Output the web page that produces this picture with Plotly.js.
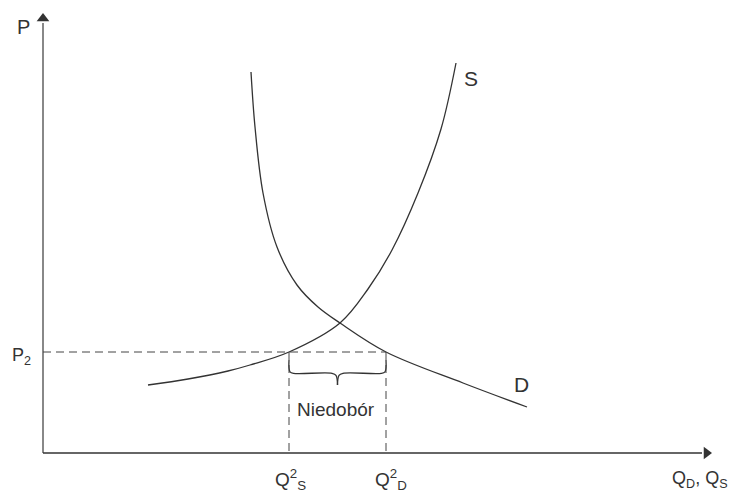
<!DOCTYPE html>
<html>
<head>
<meta charset="utf-8">
<script src="https://cdn.plot.ly/plotly-3.0.1.min.js"></script>
<style>html,body{margin:0;padding:0;background:#fff;}#chart{width:729px;height:493px;}</style>
</head>
<body>
<div id="chart"></div>
<script>
// ---- data ----
const supplyQ = [10.5, 14.5, 18.5, 20.7, 24.6, 29.7, 32.5, 34.9, 37.5, 39.8, 41.3];
const supplyP = [6.8, 7.4, 8.2, 8.8, 10.1, 13.0, 16.4, 20.3, 26.0, 32.4, 39.0];
const demandQ = [20.8, 21.2, 22.0, 23.4, 25.4, 27.5, 29.7, 34.3, 42.0, 48.4];
const demandP = [38.1, 32.6, 26.0, 20.6, 16.8, 14.6, 13.0, 10.1, 7.0, 4.6];
const P2 = 10.1;
const Q2S = 24.6;
const Q2D = 34.3;
const labelP = "P";
const labelP2 = "P<sub>2</sub>";
const labelQ2S = "Q<sup>2</sup><sub>S</sub>";
const labelQ2D = "Q<sup>2</sup><sub>D</sub>";
const labelQ = "Q<sub>D</sub>, Q<sub>S</sub>";
const labelS = "S";
const labelD = "D";
const labelGap = "Niedobór";

// ---- drawing ----
const FONT = '"Liberation Sans", Arial, sans-serif';
const ink = '#333333';
const xMax = 65.9, yMax = 43.0;

const mid = (Q2S + Q2D) / 2;
const bTop = P2 - 0.8, bFlat = P2 - 2.13, bTip = P2 - 3.3;
const braceLX = [Q2S, Q2S, Q2S + 0.1, Q2S + 0.45, mid - 0.55, mid - 0.15, mid];
const braceLY = [bTop, bFlat + 0.55, bFlat + 0.15, bFlat, bFlat, bFlat - 0.2, bTip];
const braceRX = braceLX.map(v => Q2S + Q2D - v);

const curve = {mode: 'lines', line: {color: ink, width: 1.3, shape: 'spline', smoothing: 1}, hoverinfo: 'skip', showlegend: false};
const traces = [
  Object.assign({x: supplyQ, y: supplyP}, curve),
  Object.assign({x: demandQ, y: demandP}, curve),
  Object.assign({x: braceLX, y: braceLY}, curve),
  Object.assign({x: braceRX, y: braceLY}, curve),
  {x: [0], y: [yMax + 0.45], mode: 'markers', marker: {symbol: 'triangle-up', size: 11, color: ink}, hoverinfo: 'skip', showlegend: false},
  {x: [xMax + 0.45], y: [0], mode: 'markers', marker: {symbol: 'triangle-right', size: 11, color: ink}, hoverinfo: 'skip', showlegend: false}
];

const dash = {color: '#444', width: 1, dash: '8px,5px'};
const shapes = [
  {type: 'line', xref: 'x', yref: 'y', x0: 0, y0: 0, x1: 0, y1: yMax, line: {color: '#888', width: 2}},
  {type: 'line', xref: 'x', yref: 'y', x0: 0, y0: 0, x1: xMax, y1: 0, line: {color: ink, width: 1.5}},
  {type: 'line', xref: 'x', yref: 'y', x0: 0, y0: P2, x1: Q2D, y1: P2, line: dash},
  {type: 'line', xref: 'x', yref: 'y', x0: Q2S, y0: P2, x1: Q2S, y1: 0, line: dash},
  {type: 'line', xref: 'x', yref: 'y', x0: Q2D, y0: P2, x1: Q2D, y1: 0, line: dash}
];

function ann(text, x, y, size, xa, ya) {
  return {text: text, x: x, y: y, xref: 'x', yref: 'y', showarrow: false,
    xanchor: xa || 'center', yanchor: ya || 'middle',
    font: {family: FONT, size: size, color: ink}};
}
const annotations = [
  ann(labelP, -2.0, 42.6, 20),
  ann(labelP2, -1.0, P2 - 0.45, 18, 'right'),
  ann(labelQ2S, Q2S + 0.1, -2.6, 19),
  ann(labelQ2D, Q2D + 0.45, -2.6, 19),
  ann(labelQ, 65.7, -2.6, 18),
  ann(labelS, 42.8, 37.5, 21),
  ann(labelD, 47.8, 6.9, 21),
  ann(labelGap, 29.3, 4.4, 19)
];

const layout = {
  width: 729, height: 493,
  margin: {l: 0, r: 0, t: 0, b: 0, pad: 0},
  paper_bgcolor: '#fff', plot_bgcolor: '#fff',
  xaxis: {range: [-4.3, 68.6], visible: false, fixedrange: true},
  yaxis: {range: [-4.0, 45.3], visible: false, fixedrange: true},
  shapes: shapes,
  annotations: annotations,
  showlegend: false
};
Plotly.newPlot('chart', traces, layout, {staticPlot: true, displayModeBar: false});
</script>
</body>
</html>
